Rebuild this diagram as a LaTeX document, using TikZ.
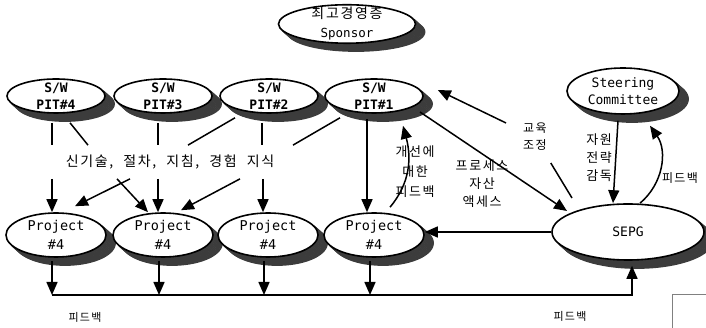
\documentclass[tikz,border=0pt]{standalone}
\usepackage{fontspec}
\setmainfont{Noto Sans CJK KR}
\newfontfamily\kr[LetterSpace=12]{Noto Sans CJK KR}
\newfontfamily\mono{DejaVu Sans Mono}
\usetikzlibrary{shapes,arrows.meta}

\definecolor{shadowgray}{RGB}{60,60,60}
\tikzset{
  blob/.style={ellipse, draw, line width=1.6pt, fill=white, inner sep=-3pt, align=center},
  pit/.style={blob, minimum width=98pt, minimum height=34pt, font=\mono\bfseries\fontsize{13}{17}\selectfont},
  proj/.style={blob, minimum width=100pt, minimum height=44pt, font=\mono\fontsize{13.5}{19}\selectfont},
  shadowline/.style={draw=shadowgray, line width=1.8pt},
  link/.style={line width=1.5pt},
  arr/.style={link, -{Triangle[length=13pt,width=11pt]}},
  lbl/.style={font=\kr\fontsize{13}{18}\selectfont, align=center, inner sep=1pt}
}

\begin{document}
\begin{tikzpicture}[x=1pt,y=1pt]
\useasboundingbox (0,0) rectangle (706,328);

% 그림자 (겹친 호로 초승달 모양)
\foreach \cx/\cy/\rx/\ry in {347/304/68.5/19, 56/232/49/17, 163/232/49/17, 269/232/49/17, 374/232/49/17,
    623/237/56/23, 56/93/50/22, 163/93/50/22, 268/93/50/22, 374/93/50/22, 628/96/76/28} {
  \pgfmathsetmacro\ang{atan2(-8/\ry, 9/\rx)}
  \pgfmathsetmacro\ta{\ang-90}
  \pgfmathsetmacro\tb{\ang+90}
  \foreach \k in {1,...,9}
    \draw[shadowline] plot[domain=\ta:\tb, samples=40] ({\cx+\k+\rx*cos(\x)}, {\cy-\k*8/9+\ry*sin(\x)});
}

% 조직
\node[blob, minimum width=137pt, minimum height=38pt, font=\mono\fontsize{12.5}{19}\selectfont]
  (sponsor) at (347,304) {{\kr\fontsize{14}{19}\selectfont 최고경영층}\\Sponsor};
\foreach \n/\x in {4/56,3/163,2/269,1/374}
  \node[pit] (pit\n) at (\x,232) {S/W\\PIT\#\n};
\node[blob, minimum width=112pt, minimum height=46pt, font=\mono\fontsize{13}{17}\selectfont]
  (steer) at (623,237) {Steering\\Committee};
\foreach \n/\x in {1/56,2/163,3/268,4/374}
  \node[proj] (proj\n) at (\x,93) {Project\\\#4};
\node[blob, minimum width=152pt, minimum height=56pt, font=\mono\fontsize{13}{15}\selectfont]
  (sepg) at (628,96) {SEPG};

% 라벨
\node[lbl, font=\kr\fontsize{14}{16}\selectfont, inner xsep=2pt, inner ysep=9.5pt] (know) at (170,166)
  {신기술,\hspace{10pt}절차,\hspace{10pt}지침,\hspace{10pt}경험\hspace{10pt}지식};
\node[lbl, font=\kr\fontsize{12}{17}\selectfont, inner xsep=17pt, inner ysep=12pt] (edu) at (535,191) {교육\\조정};
\node[lbl] (asset) at (482,144) {프로세스\\자산\\액세스};
\node[lbl, font=\kr\fontsize{13}{20}\selectfont] (impr) at (415,156) {개선에\\대한\\피드백};
\node[lbl] (res) at (599,170) {자원\\전략\\감독};
\node[lbl, font=\kr\fontsize{12}{18}\selectfont] (fbsteer) at (680,150) {피드백};
\node[lbl, font=\kr\fontsize{11}{14}\selectfont] (fbleft) at (85,11) {피드백};
\node[lbl, font=\kr\fontsize{11}{14}\selectfont] (fbright) at (570,12) {피드백};

% PIT -> 지식
\draw[link] ([xshift=-4pt,yshift=-9pt]pit4.south) -- ([xshift=-4pt]pit4.south |- know.north);
\draw[link] ([xshift=14pt,yshift=-9pt]pit4.south) -- ([xshift=-82pt]know.north);
\draw[link] ([xshift=-5pt,yshift=-9pt]pit3.south) -- ([xshift=-5pt]pit3.south |- know.north);
\draw[link] ([xshift=-34pt,yshift=-4pt]pit2.south) -- ([xshift=18pt]know.north);
\draw[link] ([xshift=-7pt,yshift=-9pt]pit2.south) -- ([xshift=-7pt]pit2.south |- know.north);
\draw[link] ([xshift=-34pt,yshift=-4pt]pit1.south) -- ([xshift=123pt]know.north);
\draw[arr] ([xshift=-7pt,yshift=-5pt]pit1.south) -- ([xshift=-7pt]proj4.north);

% 지식 -> Project
\draw[arr] ([xshift=-118pt]know.south) -- ([xshift=-4pt]proj1.north);
\draw[arr] ([xshift=-40pt]know.south) -- ([xshift=19pt,yshift=6pt]proj1.north);
\draw[arr] ([xshift=-53pt]know.south) -- ([xshift=-15pt]proj2.north);
\draw[arr] ([xshift=-12pt]know.south) -- ([xshift=-5pt]proj2.north);
\draw[arr] ([xshift=70pt]know.south) -- ([xshift=18pt,yshift=2pt]proj2.north);
\draw[arr] ([xshift=93pt]know.south) -- ([xshift=-5pt]proj3.north);

% 피드백 라인
\coordinate (fbline) at (52,33);
\foreach \p in {proj1,proj2,proj3,proj4}
  \draw[arr] ([xshift=-4pt,yshift=-3pt]\p.south) -- ([xshift=-4pt]\p.south |- fbline);
\draw[arr] (fbline) -| ([xshift=4pt,yshift=-5pt]sepg.south);
\draw[arr] (sepg.west) -- (sepg.west -| proj4.east);

% SEPG 주변
\draw[link] ([xshift=-56pt,yshift=34pt]sepg.center) -- (edu);
\draw[arr] (edu) -- ([xshift=14pt,yshift=6pt]pit1.east);
\draw[arr] ([xshift=46pt,yshift=-16pt]pit1.center) -- ([xshift=-61pt,yshift=21pt]sepg.center);
\draw[arr] ([xshift=16pt,yshift=5pt]proj4.north) to[out=50,in=-75] ([xshift=29pt,yshift=-12pt]pit1.south);
\draw[arr] ([xshift=-5pt,yshift=-6pt]steer.south) -- ([xshift=-10pt]steer.south |- sepg.north);
\draw[arr] ([xshift=12pt]sepg.north) to[out=40,in=-55] ([xshift=27pt,yshift=-11pt]steer.south);

\draw[gray, line width=0.8pt] (672,0) -- (672,34) -- (706,34);
\end{tikzpicture}
\end{document}
